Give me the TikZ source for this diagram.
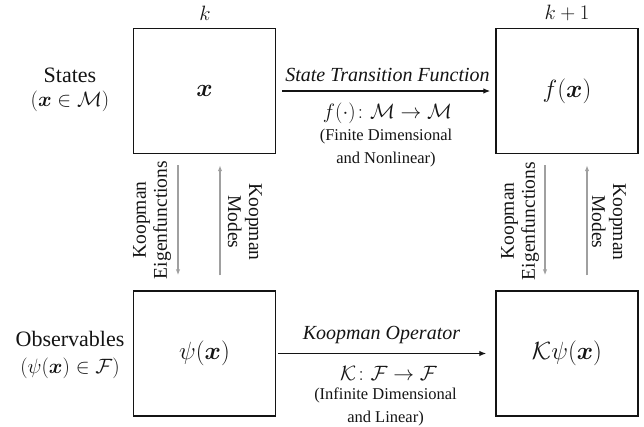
\documentclass[tikz,border=0pt]{standalone}
\usepackage{amsmath,amssymb,bm}
\usepackage{fontspec}
\setmainfont{Liberation Serif}
\usetikzlibrary{arrows.meta}
\definecolor{arrgray}{RGB}{160,160,160}
\definecolor{inkc}{RGB}{20,20,20}
\begin{document}
\begin{tikzpicture}[x=1pt,y=-1pt, color=inkc,
  box/.style={draw, line width=1.4pt, minimum width=142pt, minimum height=125pt, inner sep=0pt,
    font=\fontsize{23.5}{26}\selectfont},
  mainarrow/.style={line width=1.3pt, -{Latex[length=7pt,width=5.5pt]}},
  grayarrow/.style={draw=arrgray, line width=1.3pt, -{Latex[length=6pt,width=4.5pt]}},
  sidelabel/.style={align=center, inner sep=0pt, font=\fontsize{22}{26}\selectfont},
  steplabel/.style={inner sep=0pt, font=\fontsize{20}{24}\selectfont},
  italabel/.style={inner sep=0pt, font=\fontsize{20}{24}\selectfont\itshape},
  maplabel/.style={inner sep=0pt, font=\fontsize{21.5}{24}\selectfont},
  notelabel/.style={align=center, inner sep=0pt, font=\fontsize{16.5}{23}\selectfont},
  koop/.style={align=center, inner sep=0pt, font=\fontsize{19.5}{21}\selectfont}]
\useasboundingbox (0,0) rectangle (644,426);

% boxes
\node[box] (x)   at (204.5,91)  {$\bm{x}$};
\node[box] (fx)  at (567,91)    {$f(\bm{x})$};
\node[box] (psi) at (204.5,353.5) {$\psi(\bm{x})$};
\node[box] (kpsi) at (567,353.5) {$\mathcal{K}\psi(\bm{x})$};

% time labels
\node[steplabel] (k)  at (205,13) {$k$};
\node[steplabel] (k1) at (567,13) {$k+1$};

% side labels
\node[sidelabel] (states) at (70,90) {States\\[-2pt]$(\bm{x}\in\mathcal{M})$};
\node[sidelabel] (obs) at (70,355) {Observables\\[1pt]$(\psi(\bm{x})\in\mathcal{F})$};

% horizontal arrows
\draw[mainarrow, shorten <=6pt, shorten >=5pt] (x.east) -- (fx.west);
\draw[mainarrow, shorten <=2pt, shorten >=9pt] (psi.east) -- (kpsi.west);

\node[italabel] (stf) at (387.5,75) {State Transition Function};
\node[maplabel] (fmap) at (387.5,113) {$f(\cdot)\colon \mathcal{M}\rightarrow\mathcal{M}$};
\node[notelabel] (fnote) at (386,148) {(Finite Dimensional\\and Nonlinear)};

\node[italabel] (kop) at (381.5,335) {Koopman Operator};
\node[maplabel] (kmap) at (388.5,373) {$\mathcal{K}\colon \mathcal{F}\rightarrow\mathcal{F}$};
\node[notelabel] (knote) at (385.5,407) {(Infinite Dimensional\\and Linear)};

% vertical gray arrows, left
\draw[grayarrow, shorten <=11pt, shorten >=15pt] ([xshift=-26.5pt]x.south) -- ([xshift=-26.5pt]psi.north);
\draw[grayarrow, shorten <=15pt, shorten >=11pt] ([xshift=15.5pt]psi.north) -- ([xshift=15.5pt]x.south);
% vertical gray arrows, right
\draw[grayarrow, shorten <=11pt, shorten >=15pt] ([xshift=-22pt]fx.south) -- ([xshift=-22pt]kpsi.north);
\draw[grayarrow, shorten <=15pt, shorten >=11pt] ([xshift=20pt]kpsi.north) -- ([xshift=20pt]fx.south);

\node[koop, rotate=90]  (eigL) at (152,220) {Koopman\\Eigenfunctions};
\node[koop, rotate=-90] (modL) at (245,222) {Koopman\\Modes};
\node[koop, rotate=90]  (eigR) at (520,221) {Koopman\\Eigenfunctions};
\node[koop, rotate=-90] (modR) at (609,222) {Koopman\\Modes};
\end{tikzpicture}
\end{document}
